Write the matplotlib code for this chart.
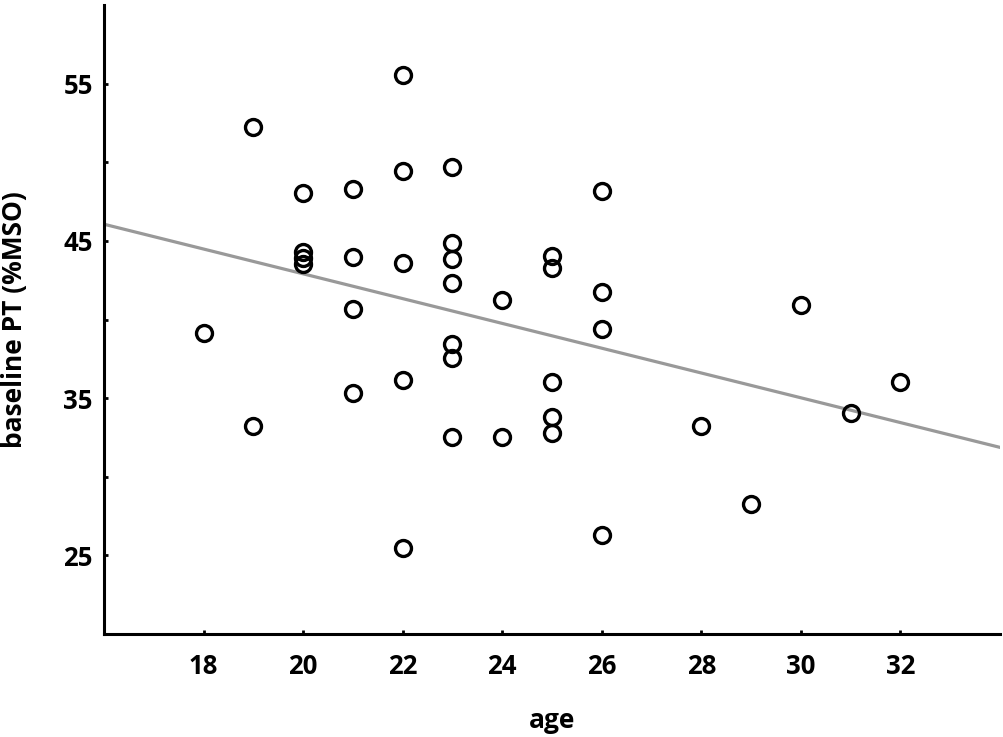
import numpy as np
import matplotlib
matplotlib.use('Agg')
import matplotlib.pyplot as plt

plt.rcParams['font.family'] = ['Open Sans', 'DejaVu Sans']
plt.rcParams['font.weight'] = 'bold'

# data (age in years, baseline PT in %MSO)
age = [18,
       19, 19,
       20, 20, 20, 20,
       21, 21, 21, 21,
       22, 22, 22, 22, 22,
       23, 23, 23, 23, 23, 23, 23,
       24, 24,
       25, 25, 25, 25, 25,
       26, 26, 26, 26,
       28, 29, 30, 31, 32]
pt = [39.15,
      52.27, 33.25,
      48.02, 44.28, 43.90, 43.52,
      48.28, 43.97, 40.67, 35.34,
      55.57, 49.42, 43.59, 36.17, 25.45,
      49.67, 44.85, 43.84, 42.32, 38.45, 37.56, 32.55,
      41.24, 32.55,
      44.03, 43.27, 36.04, 33.82, 32.81,
      48.15, 41.75, 39.40, 26.27,
      33.25, 28.24, 40.92, 34.07, 36.04]

# regression line end points
fit_x = [16, 34]
fit_y = [46.06, 31.87]

x_ticks = [18, 20, 22, 24, 26, 28, 30, 32]
y_ticks = [25, 35, 45, 55]
y_minor = [20, 30, 40, 50]

fig = plt.figure(figsize=(10.04, 7.37), dpi=100, facecolor='white')
ax = fig.add_axes([0.1036, 0.1397, 0.8924, 0.8535])

ax.plot(fit_x, fit_y, color='#999999', lw=2.3, zorder=1)
ax.plot(age, pt, ls='none', marker='o', ms=11.5, mfc='none',
        mec='black', mew=2.4, zorder=2)

ax.set_xlim(16, 34)
ax.set_ylim(20, 60)
ax.set_xticks(x_ticks)
ax.set_yticks(y_ticks)
ax.set_yticks(y_minor, minor=True)

for side in ('top', 'right'):
    ax.spines[side].set_visible(False)
for side in ('left', 'bottom'):
    ax.spines[side].set_linewidth(2.2)

ax.tick_params(axis='both', which='both', direction='in', length=3,
               width=2, labelsize=18.5)
ax.tick_params(axis='x', pad=14)
ax.tick_params(axis='y', pad=8)

ax.set_xlabel('age', fontsize=19, fontweight='bold')
ax.set_ylabel('baseline PT (%MSO)', fontsize=19, fontweight='bold')
ax.xaxis.label.set_va('center')
ax.yaxis.label.set_va('center')
ax.xaxis.set_label_coords(0.5, -0.137)
ax.yaxis.set_label_coords(-0.1, 0.5)

fig.savefig('out.png', dpi=100, facecolor='white')
